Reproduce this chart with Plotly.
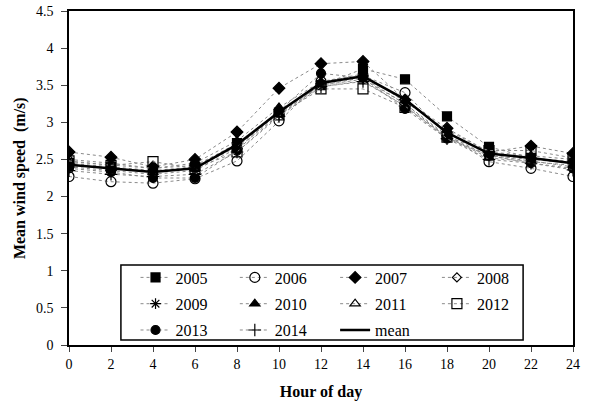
import plotly.graph_objects as go

hours = [0, 2, 4, 6, 8, 10, 12, 14, 16, 18, 20, 22, 24]

y2005 = [2.45, 2.40, 2.35, 2.40, 2.72, 3.13, 3.50, 3.72, 3.58, 3.08, 2.67, 2.52, 2.47]
y2006 = [2.27, 2.20, 2.18, 2.24, 2.48, 3.02, 3.55, 3.63, 3.40, 2.82, 2.47, 2.38, 2.27]
y2007 = [2.60, 2.53, 2.40, 2.50, 2.87, 3.46, 3.79, 3.82, 3.30, 2.92, 2.60, 2.68, 2.58]
y2008 = [2.50, 2.45, 2.38, 2.42, 2.70, 3.15, 3.50, 3.60, 3.25, 2.80, 2.55, 2.50, 2.45]
y2009 = [2.40, 2.35, 2.30, 2.35, 2.65, 3.10, 3.50, 3.58, 3.25, 2.82, 2.55, 2.48, 2.40]
y2010 = [2.47, 2.42, 2.38, 2.45, 2.75, 3.20, 3.55, 3.65, 3.28, 2.90, 2.60, 2.55, 2.50]
y2011 = [2.42, 2.38, 2.33, 2.38, 2.67, 3.12, 3.48, 3.56, 3.22, 2.80, 2.52, 2.47, 2.42]
y2012 = [2.48, 2.42, 2.47, 2.38, 2.60, 3.10, 3.45, 3.45, 3.20, 2.80, 2.62, 2.62, 2.52]
y2013 = [2.38, 2.33, 2.25, 2.25, 2.62, 3.15, 3.66, 3.60, 3.18, 2.78, 2.55, 2.45, 2.38]
y2014 = [2.35, 2.30, 2.27, 2.30, 2.60, 3.08, 3.48, 3.55, 3.22, 2.78, 2.50, 2.45, 2.36]
y_mean = [2.43, 2.38, 2.33, 2.38, 2.70, 3.14, 3.53, 3.62, 3.31, 2.86, 2.58, 2.52, 2.45]

# name, values, marker symbol, marker size, legend column
series = [
    ("2005", y2005, "square", 9, "legend"),
    ("2006", y2006, "circle-open", 10, "legend2"),
    ("2007", y2007, "diamond", 9, "legend3"),
    ("2008", y2008, "diamond-open", 7, "legend4"),
    ("2009", y2009, "asterisk-open", 9, "legend"),
    ("2010", y2010, "triangle-up", 9, "legend2"),
    ("2011", y2011, "triangle-up-open", 9, "legend3"),
    ("2012", y2012, "square-open", 10, "legend4"),
    ("2013", y2013, "circle", 9, "legend"),
    ("2014", y2014, "cross-thin-open", 9, "legend2"),
]

fig = go.Figure()

for name, ys, sym, size, leg in series:
    fig.add_trace(go.Scatter(
        x=hours, y=ys, name=name, mode="lines+markers",
        legend=leg, legendgroup=name,
        line=dict(color="#8a8a8a", width=1, dash="dot"),
        marker=dict(symbol=sym, size=size, color="black",
                    line=dict(color="black", width=1.2)),
    ))

fig.add_trace(go.Scatter(
    x=hours, y=y_mean, name="mean", mode="lines",
    legend="legend3", legendgroup="mean",
    line=dict(color="black", width=2.5),
))

# one vertical legend per column, framed by a single box
def col_legend(x):
    return dict(
        orientation="v", x=x, y=0.253, xanchor="left", yanchor="top",
        bgcolor="rgba(0,0,0,0)", borderwidth=0,
        font=dict(size=16), tracegroupgap=2.5, itemsizing="trace",
    )

fig.update_layout(
    width=593, height=402,
    margin=dict(l=69, r=20, t=11, b=57),
    paper_bgcolor="white", plot_bgcolor="white",
    font=dict(family="Liberation Serif", size=14, color="black"),
    showlegend=True,
    legend=col_legend(0.132),
    legend2=col_legend(0.329),
    legend3=col_legend(0.528),
    legend4=col_legend(0.730),
    shapes=[dict(
        type="rect", xref="paper", yref="paper",
        x0=0.103, x1=0.901, y0=0.015, y1=0.2395,
        line=dict(color="black", width=1.5), fillcolor="white", layer="below",
    )],
    annotations=[dict(
        text="<b>Mean wind speed  (m/s)</b>", textangle=-90,
        xref="paper", yref="paper", x=-0.097, y=0.5,
        xanchor="center", yanchor="middle", showarrow=False,
        font=dict(size=16),
    )],
)

fig.update_xaxes(
    range=[0, 24], tickvals=hours, ticks="outside", ticklen=5,
    showline=True, linecolor="black", linewidth=1.5, mirror=True,
    showgrid=False, zeroline=False, automargin=False,
    title=dict(text="<b>Hour of day</b>", font=dict(size=16)),
)
fig.update_yaxes(
    range=[0, 4.5], dtick=0.5, ticks="outside", ticklen=6,
    showline=True, linecolor="black", linewidth=1.5, mirror=True,
    showgrid=False, zeroline=False, automargin=False, ticklabelstandoff=5,
)

# drop the browser's default 8px body margin so the figure fills the window
fig.write_html(
    "out.html",
    config={"displayModeBar": False},
    post_script="document.body.style.margin='0px';",
)
